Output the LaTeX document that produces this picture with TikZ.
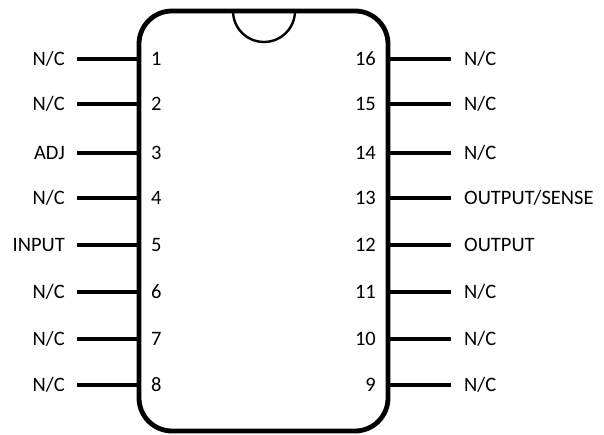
\documentclass[tikz,border=0pt]{standalone}
\usepackage{fontspec}
\setmainfont{Carlito}
\begin{document}
\begin{tikzpicture}[x=1pt, y=-1pt,
    chip/.style = {draw, line width=4.8pt, rounded corners=33pt, minimum width=249pt, minimum height=420pt, inner sep=0pt},
    pin/.style = {line width=3.2pt},
    notch/.style = {line width=2.4pt},
    txt/.style = {font=\fontsize{20.5}{22}\selectfont, inner sep=0pt, text height=13.5pt, text depth=0pt}]
    \useasboundingbox (0,0) rectangle (604,435);
    \node[chip] (body) at (263.5,221) {};
    \draw[notch] (233,11) arc[start angle=180, end angle=360, x radius=31pt, y radius=31pt];
    \foreach \num/\ypos/\name in {1/59/N\slash C, 2/104/N\slash C, 3/153/ADJ, 4/198/N\slash C, 5/245/INPUT, 6/292/N\slash C, 7/339/N\slash C, 8/385/N\slash C} {
        \coordinate (e\num) at (139,\ypos);
        \coordinate (s\num) at (77,\ypos);
        \node[txt, anchor=west] (n\num) at (151,\ypos) {\num};
        \node[txt, anchor=east] (l\num) at (65,\ypos) {\name};
        \draw[pin] (s\num) -- (e\num);
    }
    \foreach \num/\ypos/\name in {16/59/N\slash C, 15/104/N\slash C, 14/153/N\slash C, 13/198/OUTPUT\slash SENSE, 12/245/OUTPUT, 11/292/N\slash C, 10/339/N\slash C, 9/385/N\slash C} {
        \coordinate (e\num) at (388,\ypos);
        \coordinate (s\num) at (451,\ypos);
        \node[txt, anchor=east] (n\num) at (376,\ypos) {\num};
        \node[txt, anchor=west] (l\num) at (464,\ypos) {\name};
        \draw[pin] (s\num) -- (e\num);
    }
\end{tikzpicture}
\end{document}
